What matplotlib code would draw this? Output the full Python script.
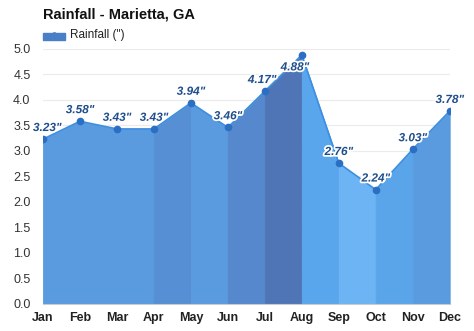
import numpy as np
import matplotlib.pyplot as plt
import matplotlib.patheffects as pe
from matplotlib.lines import Line2D
from matplotlib.patches import Rectangle

plt.rcParams['font.family'] = ['Liberation Sans', 'DejaVu Sans']

# ---- data ----
months = ['Jan', 'Feb', 'Mar', 'Apr', 'May', 'Jun', 'Jul', 'Aug', 'Sep', 'Oct', 'Nov', 'Dec']
rain = [3.23, 3.58, 3.43, 3.43, 3.94, 3.46, 4.17, 4.88, 2.76, 2.24, 3.03, 3.78]
band_colors = ['#5a9ade', '#5a9ade', '#5a9ade', '#568fd3', '#5a9ade', '#5588cc',
               '#4f75b6', '#5aa6ec', '#6cb4f3', '#5aa4ea', '#5a9be0']
# label offsets in points (dx, dy)
label_off = [(3, 8), (0, 8), (0, 8), (0, 8), (0, 8), (0, 8), (-2, 8), (-5, -9),
             (0, 8), (0, 8), (0, 8), (0, 8)]

x = np.arange(len(months))

fig = plt.figure(figsize=(4.74, 3.31), dpi=100)
ax = fig.add_axes([0.0907, 0.0816, 0.858, 0.771])

for i in range(len(x) - 1):
    ax.fill_between(x[i:i + 2], rain[i:i + 2], 0, facecolor=band_colors[i],
                    edgecolor=band_colors[i], lw=0.6, zorder=2)

ax.plot(x, rain, color='#3d8fe0', lw=1.2, zorder=3)
ax.plot(x, rain, 'o', color='#2a6fc4', ms=4.5, zorder=4)

for i, v in enumerate(rain):
    dx, dy = label_off[i]
    ax.annotate(f'{v:.2f}"', (x[i], v), xytext=(dx, dy), textcoords='offset points',
                ha='center', va='center', fontsize=8.5, fontweight='bold', fontstyle='italic',
                color='#1f4e8c', zorder=5,
                path_effects=[pe.withStroke(linewidth=2.5, foreground='white')])

ax.set_xlim(0, 11)
ax.set_ylim(0, 5.0)
ax.set_yticks(np.arange(0, 5.01, 0.5))
ax.set_yticklabels([f'{t:.1f}' for t in np.arange(0, 5.01, 0.5)], fontsize=9, color='#333333')
ax.set_xticks(x)
ax.set_xticklabels(months, fontsize=9, fontweight='bold', color='#222222')
ax.tick_params(axis='x', length=0, pad=6)
ax.tick_params(axis='y', length=0, pad=9)
ax.grid(axis='y', color='#ebebeb', lw=0.8, zorder=0)
for s in ['top', 'right', 'left']:
    ax.spines[s].set_visible(False)
ax.spines['bottom'].set_color('#cccccc')

fig.text(0.091, 0.955, 'Rainfall - Marietta, GA', fontsize=10.5, fontweight='bold',
         color='#111111', va='center')
fig.patches.append(Rectangle((0.091, 0.880), 0.046, 0.020, transform=fig.transFigure,
                             color='#4a7fc8', zorder=5))
fig.lines.append(Line2D([0.114], [0.893], transform=fig.transFigure,
                        color='#1f4e8c', marker='o', ms=3.5))
fig.text(0.148, 0.895, 'Rainfall (")', fontsize=8.5, color='#222222', va='center')

fig.savefig('out.png', dpi=100)
